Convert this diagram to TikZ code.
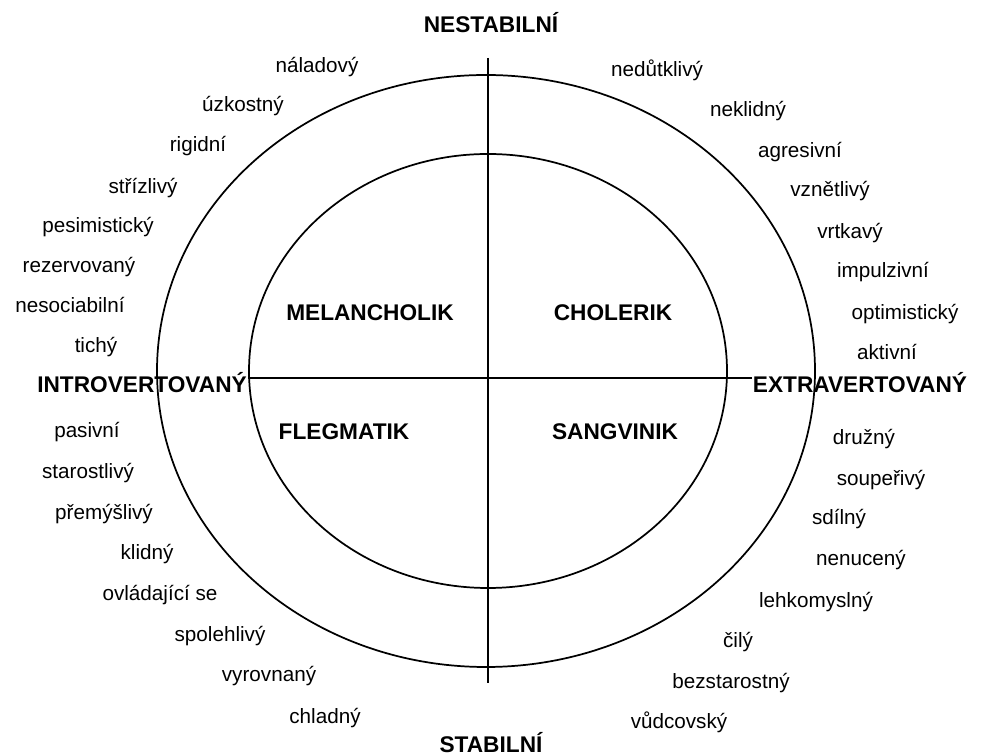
\documentclass[tikz,border=0pt]{standalone}
\usepackage{fontspec}
\setmainfont{Liberation Sans}
\begin{document}
\begin{tikzpicture}[
    x=0.75pt, y=0.75pt,
    trait/.style={anchor=base, inner sep=1pt, font=\fontsize{15.5}{18}\selectfont},
    pole/.style={anchor=base, inner sep=1pt, font=\fontsize{17}{20}\selectfont\bfseries},
    axislabel/.style={pole, fill=white},
    ring/.style={line width=1.3pt},
    axis/.style={line width=1.4pt}
]
\useasboundingbox (0,0) rectangle (985,756);
\coordinate (west) at (157,378);
\coordinate (east) at (815,378);
\coordinate (up) at (488,698);
\coordinate (down) at (488,73);
\draw[axis] (west) -- (east);
\node[axislabel] (intro) at (142,363) {INTROVERTOVANÝ};
\node[axislabel] (extra) at (860,363) {EXTRAVERTOVANÝ};
\node[pole] (unstable) at (491,723) {NESTABILNÍ};
\node[pole] (stable) at (491,3) {STABILNÍ};
\draw[ring] (486,385) ellipse [x radius=329, y radius=296];
\draw[ring] (488,385) ellipse [x radius=239, y radius=217];
\draw[axis] (up) -- (down);
\node[pole] (mel) at (370,435) {MELANCHOLIK};
\node[pole] (chol) at (613,435) {CHOLERIK};
\node[pole] (fleg) at (344,316) {FLEGMATIK};
\node[pole] (sang) at (615,316) {SANGVINIK};
\node[trait] (t1) at (317,683) {náladový};
\node[trait] (t2) at (243,644) {úzkostný};
\node[trait] (t3) at (198,604) {rigidní};
\node[trait] (t4) at (143,562) {střízlivý};
\node[trait] (t5) at (98,523) {pesimistický};
\node[trait] (t6) at (79,483) {rezervovaný};
\node[trait] (t7) at (70,443) {nesociabilní};
\node[trait] (t8) at (96,403) {tichý};
\node[trait] (t9) at (87,318) {pasivní};
\node[trait] (t10) at (88,277) {starostlivý};
\node[trait] (t11) at (104,236) {přemýšlivý};
\node[trait] (t12) at (147,196) {klidný};
\node[trait] (t13) at (160,155) {ovládající se};
\node[trait] (t14) at (220,114) {spolehlivý};
\node[trait] (t15) at (269,74) {vyrovnaný};
\node[trait] (t16) at (325,32) {chladný};
\node[trait] (t17) at (657,679) {nedůtklivý};
\node[trait] (t18) at (748,639) {neklidný};
\node[trait] (t19) at (800,598) {agresivní};
\node[trait] (t20) at (830,559) {vznětlivý};
\node[trait] (t21) at (850,517) {vrtkavý};
\node[trait] (t22) at (883,478) {impulzivní};
\node[trait] (t23) at (905,436) {optimistický};
\node[trait] (t24) at (887,396) {aktivní};
\node[trait] (t25) at (864,311) {družný};
\node[trait] (t26) at (881,270) {soupeřivý};
\node[trait] (t27) at (839,231) {sdílný};
\node[trait] (t28) at (861,190) {nenucený};
\node[trait] (t29) at (816,148) {lehkomyslný};
\node[trait] (t30) at (738,108) {čilý};
\node[trait] (t31) at (731,67) {bezstarostný};
\node[trait] (t32) at (679,27) {vůdcovský};
\end{tikzpicture}
\end{document}
